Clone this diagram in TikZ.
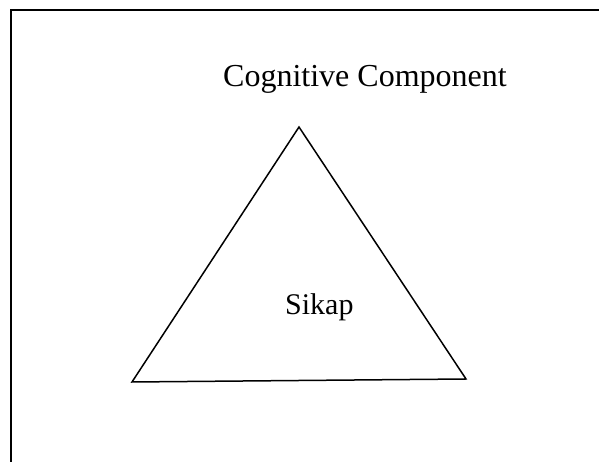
\documentclass[tikz,border=0pt]{standalone}
\usepackage{fontspec}
\setmainfont{Liberation Serif}
\begin{document}
\begin{tikzpicture}[x=1pt,y=1pt,
  frameline/.style={line width=2pt,draw=black},
  triline/.style={line width=1.5pt,draw=black,line join=miter},
  label/.style={inner sep=0pt,anchor=base west}]
  \useasboundingbox (0,0) rectangle (599,462);
  \clip (0,0) rectangle (599,462);
  % outer frame (runs off the right and bottom edges)
  \draw[frameline] (11,-20) rectangle (640,452);
  % triangle corners
  \coordinate (apex) at (299,335);
  \coordinate (bl) at (132,80);
  \coordinate (br) at (466,83);
  \draw[triline] (apex) -- (br) -- (bl) -- cycle;
  % texts
  \node[label,font=\fontsize{32}{36}\selectfont] (cog) at (223,375.5) {Cognitive Component};
  \node[label,font=\fontsize{30}{34}\selectfont] (sikap) at (285,147) {Sikap};
\end{tikzpicture}
\end{document}
